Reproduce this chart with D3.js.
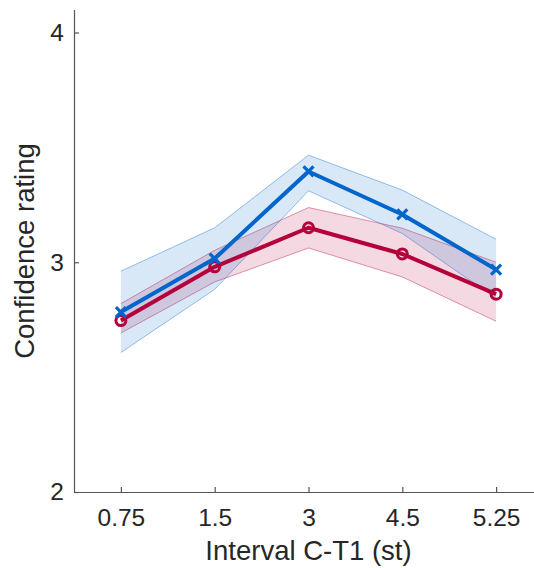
<!DOCTYPE html>
<html>
<head>
<meta charset="utf-8">
<script src="https://cdn.jsdelivr.net/npm/d3@7"></script>
<style>
  html, body { margin: 0; padding: 0; background: #fff; }
  svg { display: block; }
  text { font-family: "Liberation Sans", Arial, sans-serif; fill: #262626; }
</style>
</head>
<body>
<div id="chart"></div>
<script>
// ---- data ----
const categories = ["0.75", "1.5", "3", "4.5", "5.25"];
const blueMean  = [2.783, 3.016, 3.395, 3.208, 2.968];
const blueUpper = [2.961, 3.150, 3.466, 3.314, 3.100];
const blueLower = [2.607, 2.882, 3.311, 3.125, 2.842];
const redMean   = [2.746, 2.980, 3.150, 3.036, 2.861];
const redUpper  = [2.820, 3.052, 3.238, 3.148, 3.000];
const redLower  = [2.692, 2.914, 3.062, 2.936, 2.743];
const yTicks = [2, 3, 4];
const xLabel = "Interval C-T1 (st)";
const yLabel = "Confidence rating";

// ---- layout ----
const W = 534, H = 568;
const svg = d3.select("#chart").append("svg").attr("width", W).attr("height", H);

const x = d3.scalePoint().domain(categories).range([74, 543]).padding(0.5);
const y = d3.scaleLinear().domain([2, 4.1]).range([492, 9.5]);

const series = [
  { mean: redMean, upper: redUpper, lower: redLower, color: "#b4003b", marker: "circle" },
  { mean: blueMean, upper: blueUpper, lower: blueLower, color: "#0066cc", marker: "cross" }
];

const area = d3.area()
  .x((d, i) => x(categories[i]))
  .y0(d => y(d[0]))
  .y1(d => y(d[1]));
const line = d3.line()
  .x((d, i) => x(categories[i]))
  .y(d => y(d));

// bands
series.forEach(s => {
  const band = s.lower.map((v, i) => [v, s.upper[i]]);
  svg.append("path").datum(band).attr("d", area)
    .attr("fill", s.color).attr("fill-opacity", 0.15).attr("stroke", "none");
  svg.append("path").datum(s.upper).attr("d", line)
    .attr("fill", "none").attr("stroke", s.color).attr("stroke-opacity", 0.4).attr("stroke-width", 1);
  svg.append("path").datum(s.lower).attr("d", line)
    .attr("fill", "none").attr("stroke", s.color).attr("stroke-opacity", 0.4).attr("stroke-width", 1);
});

// mean lines + markers
series.forEach(s => {
  svg.append("path").datum(s.mean).attr("d", line)
    .attr("fill", "none").attr("stroke", s.color).attr("stroke-width", 4)
    .attr("stroke-linejoin", "round");
  const g = svg.append("g");
  s.mean.forEach((v, i) => {
    const cx = x(categories[i]), cy = y(v);
    if (s.marker === "circle") {
      g.append("circle").attr("cx", cx).attr("cy", cy).attr("r", 5)
        .attr("fill", "none").attr("stroke", s.color).attr("stroke-width", 3);
    } else {
      const r = 5;
      g.append("path")
        .attr("d", `M${cx - r},${cy - r}L${cx + r},${cy + r}M${cx - r},${cy + r}L${cx + r},${cy - r}`)
        .attr("stroke", s.color).attr("stroke-width", 3.2).attr("fill", "none");
    }
  });
});

// axes
const axisColor = "#555";
const xAxis = svg.append("g").attr("transform", "translate(0,492)")
  .call(d3.axisBottom(x).tickSizeInner(-5).tickSizeOuter(0).tickPadding(17));
const yAxis = svg.append("g").attr("transform", "translate(74,0)")
  .call(d3.axisLeft(y).tickValues(yTicks).tickFormat(d3.format("d")).tickSizeInner(-5).tickSizeOuter(0).tickPadding(10));
[xAxis, yAxis].forEach(a => {
  a.select(".domain").attr("stroke", axisColor).attr("stroke-width", 1.2);
  a.selectAll(".tick line").attr("stroke", axisColor).attr("stroke-width", 1.2);
  a.selectAll(".tick text").attr("font-size", 24.5).attr("fill", "#262626")
    .attr("font-family", "'Liberation Sans', Arial, sans-serif");
});

// labels
svg.append("text").attr("x", 308.5).attr("y", 560).attr("text-anchor", "middle")
  .attr("font-size", 27.5).text(xLabel);
svg.append("text").attr("transform", "translate(34,251) rotate(-90)")
  .attr("text-anchor", "middle").attr("font-size", 27.5).text(yLabel);
</script>
</body>
</html>
